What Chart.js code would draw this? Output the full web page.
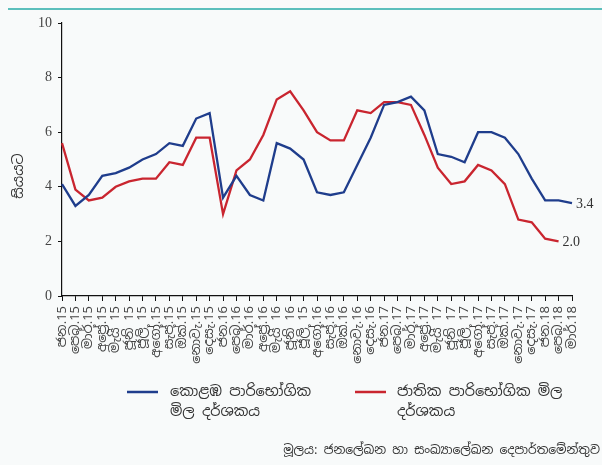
<!DOCTYPE html>
<html>
<head>
<meta charset="utf-8">
<script src="https://cdn.jsdelivr.net/npm/chart.js@4"></script>
<style>
  html, body { margin: 0; padding: 0; background: #f8fafa; }
  #wrap { position: relative; width: 602px; height: 465px; }
  #topline { position: absolute; left: 8px; top: 8px; width: 594px; height: 2px; background: #5bbfbc; }
  canvas { position: absolute; left: 0; top: 0; }
</style>
</head>
<body>
<div id="wrap">
  <div id="topline"></div>
  <canvas id="c" width="602" height="465"></canvas>
</div>
<script>
// Month labels, January 2015 to March 2018
const months = [
  'ජන.15', 'පෙබ.15', 'මාර්.15', 'අප්‍රේ.15', 'මැයි 15', 'ජූනි 15', 'ජූලි 15', 'අගෝ.15', 'සැප්.15', 'ඔක්.15', 'නොවැ.15', 'දෙසැ.15',
  'ජන.16', 'පෙබ.16', 'මාර්.16', 'අප්‍රේ.16', 'මැයි 16', 'ජූනි 16', 'ජූලි 15', 'අගෝ.16', 'සැප්.16', 'ඔක්.16', 'නොවැ.16', 'දෙසැ.16',
  'ජන.17', 'පෙබ.17', 'මාර්.17', 'අප්‍රේ.17', 'මැයි 17', 'ජූනි 17', 'ජූලි 17', 'අගෝ.17', 'සැප්.17', 'ඔක්.17', 'නොවැ.17', 'දෙසැ.17',
  'ජන.18', 'පෙබ.18', 'මාර්.18'
];

// Colombo Consumer Price Index, year-on-year (%)
const ccpi = [
  4.1, 3.3, 3.7, 4.4, 4.5, 4.7, 5.0, 5.2, 5.6, 5.5, 6.5, 6.7,
  3.6, 4.4, 3.7, 3.5, 5.6, 5.4, 5.0, 3.8, 3.7, 3.8, 4.8, 5.8,
  7.0, 7.1, 7.3, 6.8, 5.2, 5.1, 4.9, 6.0, 6.0, 5.8, 5.2, 4.3,
  3.5, 3.5, 3.4
];

// National Consumer Price Index, year-on-year (%)
const ncpi = [
  5.6, 3.9, 3.5, 3.6, 4.0, 4.2, 4.3, 4.3, 4.9, 4.8, 5.8, 5.8,
  3.0, 4.6, 5.0, 5.9, 7.2, 7.5, 6.8, 6.0, 5.7, 5.7, 6.8, 6.7,
  7.1, 7.1, 7.0, 5.9, 4.7, 4.1, 4.2, 4.8, 4.6, 4.1, 2.8, 2.7,
  2.1, 2.0
];

const yTicks = [0, 2, 4, 6, 8, 10];

const seriesNames = [
  ['කොළඹ පාරිභෝගික', 'මිල දර්ශකය'],
  ['ජාතික පාරිභෝගික මිල', 'දර්ශකය']
];
const yTitle = 'සියයට';
const sourceNote = 'මූලය: ජනලේඛන හා සංඛ්‍යාලේඛන දෙපාර්තමේන්තුව';

const BLUE = '#1f3d8c';
const RED = '#c9252f';
const SIN_FONT = '"Noto Sans Sinhala", "Iskoola Pota", "Noto Sans", sans-serif';
const SERIF = '"Liberation Serif", "DejaVu Serif", serif';

// Value tag at the last point of each series, plus legend, axis title and source line
const extras = {
  id: 'extras',
  afterDatasetsDraw(chart) {
    const ctx = chart.ctx;
    ctx.save();
    // end-of-line values
    chart.data.datasets.forEach((ds, i) => {
      const meta = chart.getDatasetMeta(i);
      const last = meta.data[meta.data.length - 1];
      const v = ds.data[ds.data.length - 1];
      ctx.font = '14px ' + SERIF;
      ctx.fillStyle = '#333';
      ctx.textAlign = 'left';
      ctx.textBaseline = 'middle';
      ctx.fillText(v.toFixed(1), last.x + 4, last.y + 1);
    });

    // y-axis title
    ctx.save();
    ctx.translate(19, 176);
    ctx.rotate(-Math.PI / 2);
    ctx.font = '14px ' + SIN_FONT;
    ctx.fillStyle = '#333';
    ctx.textAlign = 'center';
    ctx.textBaseline = 'middle';
    ctx.fillText(yTitle, 0, 0);
    ctx.restore();

    // legend
    const items = [
      { color: BLUE, x: 127, tx: 170, lines: seriesNames[0] },
      { color: RED, x: 355, tx: 397, lines: seriesNames[1] }
    ];
    items.forEach(it => {
      ctx.strokeStyle = it.color;
      ctx.lineWidth = 2.5;
      ctx.beginPath();
      ctx.moveTo(it.x, 392);
      ctx.lineTo(it.x + 31, 392);
      ctx.stroke();
      ctx.font = '14.5px ' + SIN_FONT;
      ctx.fillStyle = '#333';
      ctx.textAlign = 'left';
      ctx.textBaseline = 'middle';
      it.lines.forEach((t, k) => ctx.fillText(t, it.tx, 392 + k * 20));
    });

    // source line
    ctx.font = '12.3px ' + SIN_FONT;
    ctx.fillStyle = '#333';
    ctx.textAlign = 'right';
    ctx.textBaseline = 'middle';
    ctx.fillText(sourceNote, 600, 451);
    ctx.restore();
  }
};

new Chart(document.getElementById('c'), {
  type: 'line',
  data: {
    labels: months,
    datasets: [
      { label: seriesNames[0].join(' '), data: ccpi, borderColor: BLUE, backgroundColor: BLUE },
      { label: seriesNames[1].join(' '), data: ncpi, borderColor: RED, backgroundColor: RED }
    ]
  },
  options: {
    responsive: false,
    animation: false,
    devicePixelRatio: 1,
    layout: { padding: { left: 0, right: 30, top: 23, bottom: 0 } },
    elements: {
      line: { tension: 0, borderWidth: 2.3, fill: false },
      point: { radius: 0, hoverRadius: 0 }
    },
    plugins: { legend: { display: false }, tooltip: { enabled: false } },
    scales: {
      x: {
        type: 'category',
        offset: false,
        afterFit(scale) { scale.height = 169; },
        grid: { display: true, drawOnChartArea: false, drawTicks: true, tickLength: 5, color: '#111', tickWidth: 1 },
        border: { display: true, color: '#111', width: 1.2 },
        ticks: {
          autoSkip: false, maxRotation: 90, minRotation: 90, padding: 5,
          color: '#444', font: { family: SIN_FONT, size: 13 }
        }
      },
      y: {
        min: 0, max: 10,
        afterFit(scale) { scale.width = 62; },
        afterBuildTicks(scale) { scale.ticks = yTicks.map(v => ({ value: v })); },
        grid: { display: true, drawOnChartArea: false, drawTicks: true, tickLength: 4, color: '#111', tickWidth: 1 },
        border: { display: true, color: '#111', width: 1.2 },
        ticks: { padding: 6, color: '#444', font: { family: SERIF, size: 14 } }
      }
    }
  },
  plugins: [extras]
});
</script>
</body>
</html>
